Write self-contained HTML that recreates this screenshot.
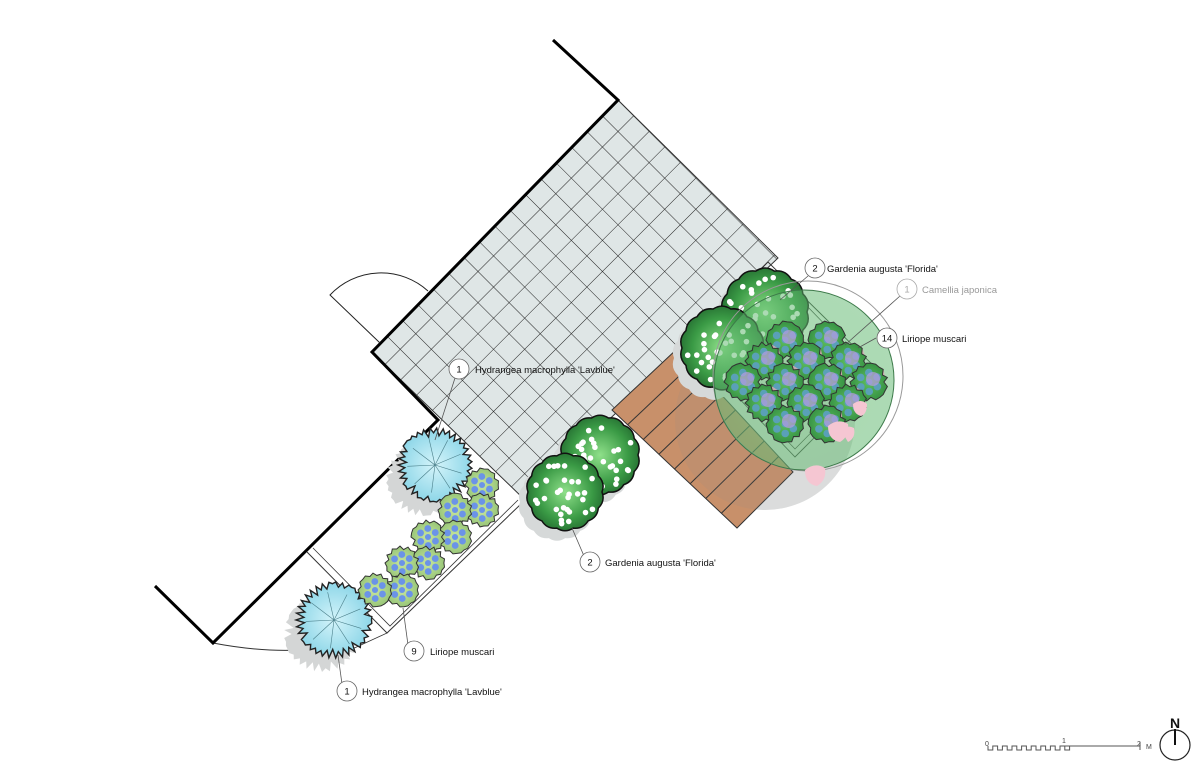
<!DOCTYPE html>
<html><head><meta charset="utf-8"><style>
html,body{margin:0;padding:0;background:#fff;}
svg{display:block;}
text{font-family:"Liberation Sans",Arial,sans-serif;}
</style></head><body>
<svg id="s" width="1200" height="768" viewBox="0 0 1200 768" xmlns="http://www.w3.org/2000/svg">
<defs>
<pattern id="grid" width="22" height="22" patternUnits="userSpaceOnUse" patternTransform="translate(618,100) rotate(45)">
<rect width="22" height="22" fill="#dfe6e6"/>
<path d="M0 0H22M0 0V22" stroke="#222" stroke-width="1" fill="none"/>
</pattern>
<radialGradient id="gGar" cx="0.5" cy="0.5" r="0.6"><stop offset="0" stop-color="#8fe08a"/><stop offset="0.6" stop-color="#3a9a45"/><stop offset="1" stop-color="#1d5e2a"/></radialGradient>
<radialGradient id="gHyd" cx="0.5" cy="0.5" r="0.6"><stop offset="0" stop-color="#d4f4fa"/><stop offset="1" stop-color="#7fd0e4"/></radialGradient>
<radialGradient id="gCam" cx="0.45" cy="0.55" r="0.6"><stop offset="0" stop-color="#7ccd86" stop-opacity="0.65"/><stop offset="1" stop-color="#5cb46c" stop-opacity="0.5"/></radialGradient>
<radialGradient id="gLir" cx="0.5" cy="0.5" r="0.6"><stop offset="0" stop-color="#c8e6a0"/><stop offset="1" stop-color="#8fc070"/></radialGradient>
<radialGradient id="gLir2" cx="0.5" cy="0.5" r="0.6"><stop offset="0" stop-color="#5fbf60"/><stop offset="1" stop-color="#2f8a3e"/></radialGradient>
</defs>

<circle cx="765" cy="420" r="90" fill="#e6e7e7"/>

<polygon points="618,100 778,258 525,500 372,352" fill="url(#grid)"/>
<polygon points="618,100 778,258 525,500 372,352" fill="none" stroke="#333" stroke-width="1"/>

<g>
<polygon points="612,410 678,348 793,472 737,528" fill="#c8906a" stroke="#333" stroke-width="1"/>
<g id="planks" stroke="#333" stroke-width="1"></g>
</g>
<circle cx="765" cy="420" r="90" fill="#888" opacity="0.12"/>

<polyline points="307,552 387,633 522,503" fill="none" stroke="#333" stroke-width="1"/>
<polyline points="313,548 390,626 518,500" fill="none" stroke="#333" stroke-width="0.8"/>
<path d="M213,643 Q260,652 300,650" fill="none" stroke="#333" stroke-width="1"/>
<path d="M387,633 L350,650" fill="none" stroke="#333" stroke-width="0.8"/>
<polygon points="768,262 880,372 795,457 688,345" fill="none" stroke="#333" stroke-width="0.9"/>
<polygon points="772,270 871,372 795,449 696,345" fill="none" stroke="#333" stroke-width="0.7"/>

<polyline points="553,40 618,100 372,352 438,420 213,643 155,586" fill="none" stroke="#000" stroke-width="3"/>
<path d="M380,343 L330,295 A70,70 0 0 1 428,291" fill="none" stroke="#222" stroke-width="1"/>

<g id="plants"></g>

<circle cx="808" cy="376" r="95" fill="none" stroke="#999" stroke-width="1"/>
<circle cx="804" cy="380" r="90" fill="url(#gCam)" stroke="#3d7a4a" stroke-width="1"/>
<g id="lir14"></g>
<g fill="#f5c6d2">
<path d="M828,426 q10,-8 20,-2 q2,12 -8,18 q-12,-2 -12,-16z"/>
<path d="M842,432 q4,-8 12,-4 q2,10 -6,14z"/>
<path d="M805,470 q10,-8 20,-2 q2,12 -8,18 q-12,-2 -12,-16z"/>
<path d="M853,404 q8,-6 14,0 q0,10 -6,12 q-8,-2 -8,-12z"/>
</g>

<g font-size="9.5" fill="#111">
<g stroke="#555" stroke-width="0.8" fill="none">
<line x1="455" y1="378" x2="435" y2="440"/>
<line x1="808" y1="276" x2="780" y2="300"/>
<line x1="900" y1="296" x2="845" y2="345"/>
<line x1="876" y1="338" x2="858" y2="348"/>
<line x1="584" y1="556" x2="572" y2="528"/>
<line x1="408" y1="645" x2="403" y2="608"/>
<line x1="342" y1="684" x2="338" y2="655"/>
</g>
<g fill="#fff" stroke="#666" stroke-width="0.8">
<circle cx="459" cy="369" r="10"/>
<circle cx="815" cy="268" r="10"/>
<circle cx="907" cy="289" r="10" stroke="#aaa"/>
<circle cx="887" cy="338" r="10"/>
<circle cx="590" cy="562" r="10"/>
<circle cx="414" cy="651" r="10"/>
<circle cx="347" cy="691" r="10"/>
</g>
<g text-anchor="middle">
<text x="459" y="372.5">1</text>
<text x="815" y="271.5">2</text>
<text x="907" y="292.5" fill="#aaa">1</text>
<text x="887" y="341.5">14</text>
<text x="590" y="565.5">2</text>
<text x="414" y="654.5">9</text>
<text x="347" y="694.5">1</text>
</g>
<text x="475" y="373">Hydrangea macrophylla 'Lavblue'</text>
<text x="827" y="272">Gardenia augusta 'Florida'</text>
<text x="922" y="293" fill="#999">Camellia japonica</text>
<text x="902" y="342">Liriope muscari</text>
<text x="605" y="566">Gardenia augusta 'Florida'</text>
<text x="430" y="655">Liriope muscari</text>
<text x="362" y="695">Hydrangea macrophylla 'Lavblue'</text>
</g>

<g stroke="#555" stroke-width="1" fill="none">
<path id="zig" d=""/>
<line x1="1065" y1="746" x2="1140" y2="746"/>
<line x1="1140" y1="742" x2="1140" y2="750"/>
</g>
<g font-size="7" fill="#444">
<text x="985" y="746">0</text>
<text x="1062" y="743">1</text>
<text x="1137" y="746">2</text>
<text x="1146" y="749">M</text>
</g>
<circle cx="1175" cy="745" r="15" fill="none" stroke="#222" stroke-width="1.2"/>
<line x1="1175" y1="729" x2="1175" y2="745" stroke="#111" stroke-width="2"/>
<text x="1175" y="728" font-size="14" font-weight="bold" text-anchor="middle" fill="#111">N</text>
</svg>
<script>
(function(){
var NS="http://www.w3.org/2000/svg";
function el(t,a,p){var e=document.createElementNS(NS,t);for(var k in a)e.setAttribute(k,a[k]);(p||document.getElementById('plants')).appendChild(e);return e;}
var pl=document.getElementById('planks');
var A=[612,410],B=[678,348],D=[737,528],C=[793,472];
for(var i=1;i<8;i++){var t=i/8;el('line',{x1:A[0]+(D[0]-A[0])*t,y1:A[1]+(D[1]-A[1])*t,x2:B[0]+(C[0]-B[0])*t,y2:B[1]+(C[1]-B[1])*t},pl);}
var d="M988,746";for(var x=988;x<1065;x+=9.6){d+=" L"+x+",750 L"+(x+4.8)+",750 L"+(x+4.8)+",746 L"+(x+9.6)+",746";}
document.getElementById('zig').setAttribute('d',d);
var seed=7;function rnd(){seed=(seed*9301+49297)%233280;return seed/233280;}
function blob(cx,cy,r,n,amp){var s="";for(var i=0;i<n;i++){var a=i/n*Math.PI*2;var rr=r*(1-amp+amp*(i%2?1:0.2+0.8*rnd()));s+=(i?"L":"M")+(cx+rr*Math.cos(a)).toFixed(1)+","+(cy+rr*Math.sin(a)).toFixed(1);}return s+"Z";}
function wavy(cx,cy,r,n){var s="";for(var i=0;i<=n;i++){var a=i/n*Math.PI*2;var x=cx+r*Math.cos(a),y=cy+r*Math.sin(a);if(!i)s="M"+x.toFixed(1)+","+y.toFixed(1);else{var am=(i-0.5)/n*Math.PI*2;var rq=r*1.12;s+=" Q"+(cx+rq*Math.cos(am)).toFixed(1)+","+(cy+rq*Math.sin(am)).toFixed(1)+" "+x.toFixed(1)+","+y.toFixed(1);}}return s+"Z";}
function gardenia(cx,cy,r){
 el('path',{d:wavy(cx-8,cy+10,r,14),fill:'#d6d9d9'});
 el('path',{d:wavy(cx,cy,r,14),fill:'url(#gGar)',stroke:'#111','stroke-width':1.5});
 for(var k=0;k<32;k++){var a=rnd()*Math.PI*2,rr=Math.sqrt(rnd())*r*0.88;el('circle',{cx:cx+rr*Math.cos(a),cy:cy+rr*Math.sin(a),r:2.8,fill:'#fff'});}
}
function hydr(cx,cy,r){
 el('path',{d:blob(cx-12,cy+14,r,60,0.3),fill:'#d4d6d6'});
 el('path',{d:blob(cx,cy,r,70,0.3),fill:'url(#gHyd)',stroke:'#222','stroke-width':1.4});
 for(var k=0;k<9;k++){var a=k/9*Math.PI*2+0.3;el('line',{x1:cx,y1:cy,x2:cx+r*0.75*Math.cos(a),y2:cy+r*0.75*Math.sin(a),stroke:'#4a7f8a','stroke-width':0.6});}
}
function lir(cx,cy,r,fill,blue,p){
 el('path',{d:blob(cx,cy,r,26,0.28),fill:fill,stroke:'#333','stroke-width':1},p);
 for(var k=0;k<6;k++){var a=k/6*Math.PI*2+0.5;el('circle',{cx:cx+r*0.5*Math.cos(a),cy:cy+r*0.5*Math.sin(a),r:r*0.2,fill:blue},p);}
 el('circle',{cx:cx,cy:cy,r:r*0.18,fill:blue},p);
}
gardenia(600,455,38);gardenia(565,492,37);
gardenia(765,312,42);gardenia(722,348,40);
hydr(435,465,37);hydr(334,620,38);
var L=[[482,485],[482,510],[455,510],[455,537],[428,537],[428,563],[402,563],[402,590],[375,590]];
L.forEach(function(p){lir(p[0],p[1],17,'url(#gLir)','#6b93e8');});
var g14=document.getElementById('lir14');
var cnt=0;
for(var i=-1.5;i<=1.5;i++)for(var j=-1.5;j<=1.5;j++){if(cnt>=14){break;}if((i==1.5&&j==1.5)||(i==-1.5&&j==-1.5))continue;cnt++;
 var cx=806+i*21-j*21,cy=382+i*21+j*21;
 el('path',{d:blob(cx+5,cy-5,12,10,0.2),fill:'#d7a9b4',opacity:0.85},g14);
 lir(cx,cy,19,'url(#gLir2)','#5aa0b8',g14);
 el('circle',{cx:cx+4,cy:cy-3,r:7,fill:'#b89be0',opacity:0.7},g14);
}
})();
</script>
</body></html>
